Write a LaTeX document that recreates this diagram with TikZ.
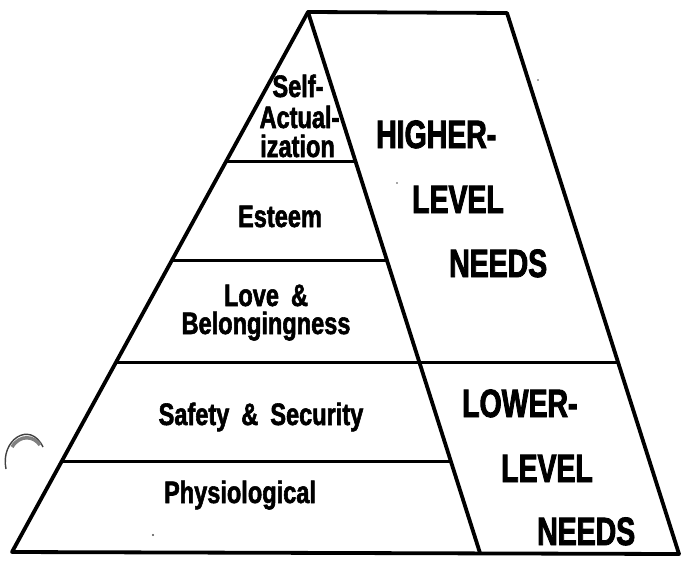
\documentclass[tikz,border=0pt]{standalone}
\usepackage{fontspec}
\setmainfont{Liberation Sans}[FakeStretch=0.76, FakeBold=1.8]
\newfontfamily\bigfont{Liberation Sans}[FakeStretch=0.72, FakeBold=2.2]
\begin{document}
\begin{tikzpicture}[x=1pt,y=-1pt,
  outline/.style={line width=3.8pt, line join=round, line cap=round},
  tier/.style={line width=3pt},
  lab/.style={font=\fontsize{31}{30}\selectfont\bfseries, inner sep=0pt},
  biglab/.style={font=\bigfont\fontsize{39.5}{39}\selectfont\bfseries, inner sep=0pt, anchor=base west},
  speck/.style={fill=black!70, draw=none}]
\useasboundingbox (0,0) rectangle (684,560);
% corners
\coordinate (A) at (308,12);
\coordinate (T) at (507,13);
\coordinate (BL) at (12,552);
\coordinate (PR) at (480,553);
\coordinate (R) at (679,554);
% tier lines
\coordinate (L1) at (intersection of A--BL and 0,161--10,161);
\coordinate (M1) at (intersection of A--PR and 0,161--10,161);
\coordinate (L2) at (intersection of A--BL and 0,260--10,260);
\coordinate (M2) at (intersection of A--PR and 0,260--10,260);
\coordinate (L3) at (intersection of A--BL and 0,362--10,362);
\coordinate (M3) at (intersection of T--R and 0,362--10,362);
\coordinate (L4) at (intersection of A--BL and 0,461--10,461);
\coordinate (M4) at (intersection of A--PR and 0,461--10,461);
\draw[outline] (BL) -- (A) -- (T) -- (R) -- cycle;
\draw[outline] (A) -- (PR);
\draw[tier] (L1) -- (M1);
\draw[tier] (L2) -- (M2);
\draw[tier] (L3) -- (M3);
\draw[tier] (L4) -- (M4);
% labels
\node[lab, anchor=base] (self1) at (298,97) {Self-};
\node[lab, anchor=base] (self2) at (299.5,128) {Actual-};
\node[lab, anchor=base] (self3) at (297.5,157) {ization};
\node[lab, anchor=base] (esteem) at (280,227) {Esteem};
\node[lab, anchor=base] (love1) at (266,306) {Love\hspace{12pt}\&};
\node[lab, anchor=base] (love2) at (266,334) {Belongingness};
\node[lab, anchor=base] (safety) at (261,425) {Safety\hspace{12pt}\&\hspace{12pt}Security};
\node[lab, anchor=base] (phys) at (240,503) {Physiological};
\node[biglab] (hi1) at (376,148) {HIGHER-};
\node[biglab] (hi2) at (412,213) {LEVEL};
\node[biglab] (hi3) at (449,277) {NEEDS};
\node[biglab] (lo1) at (462,417) {LOWER-};
\node[biglab] (lo2) at (501,482) {LEVEL};
\node[biglab] (lo3) at (537,545) {NEEDS};
% scan marks
\draw[black!75, line width=1.4pt] (6,469) .. controls (0,440) and (30,420) .. (43,447);
\draw[black!50, line width=3.5pt] (12,447) .. controls (20,434) and (34,436) .. (40,445);
\fill[speck] (153,535) circle (1.2);
\fill[speck] (397,183) circle (0.9);
\fill[speck] (538,80) circle (0.9);
\end{tikzpicture}
\end{document}
